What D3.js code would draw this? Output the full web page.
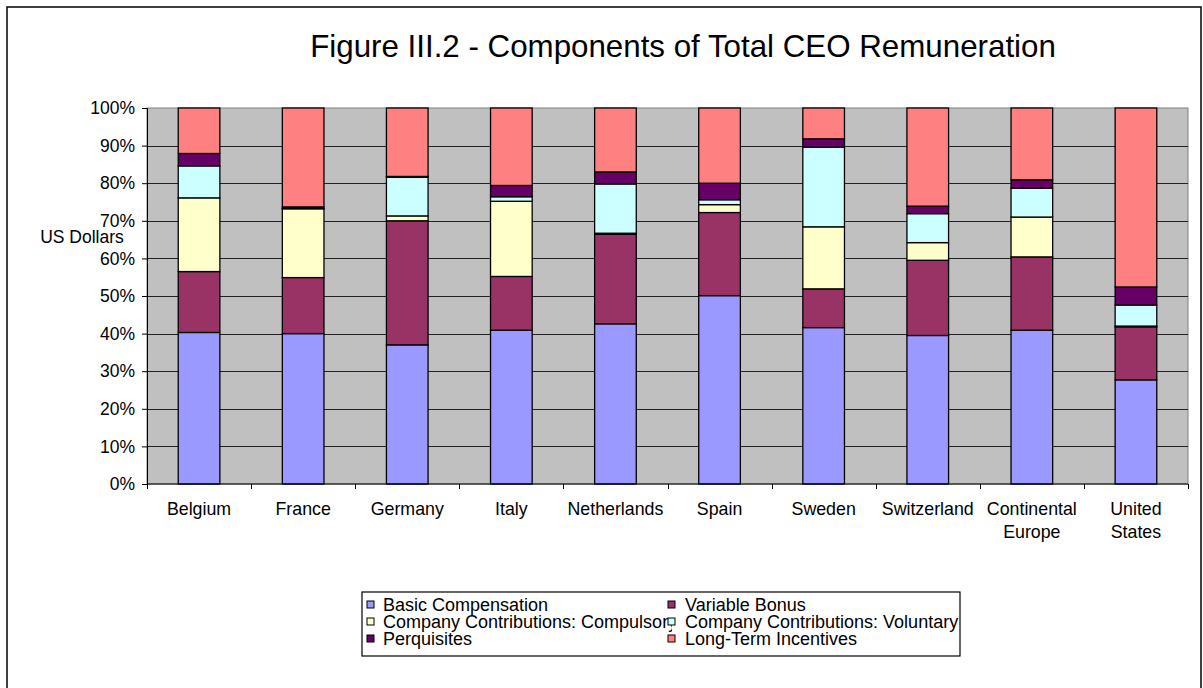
<!DOCTYPE html>
<html>
<head>
<meta charset="utf-8">
<script src="https://cdn.jsdelivr.net/npm/d3@7"></script>
<style>
  body { margin: 0; background: #fff; }
  svg { display: block; font-family: "Liberation Sans", Arial, sans-serif; }
</style>
</head>
<body>
<div id="chart"></div>
<script>
const countries = ["Belgium", "France", "Germany", "Italy", "Netherlands", "Spain",
  "Sweden", "Switzerland", "Continental Europe", "United States"];

const components = ["Basic Compensation", "Variable Bonus",
  "Company Contributions: Compulsory", "Company Contributions: Voluntary",
  "Perquisites", "Long-Term Incentives"];

// share of total remuneration, in %, one value per country
const basicComp   = [40.3, 40.0, 37.0, 40.9, 42.6, 50.1, 41.6, 39.5, 40.9, 27.7];
const variableBon = [16.2, 14.9, 33.0, 14.3, 23.8, 22.1, 10.3, 20.0, 19.5, 14.1];
const compulsory  = [19.6, 18.3,  1.3, 20.0,  0.3,  2.1, 16.5,  4.7, 10.6,  0.2];
const voluntary   = [ 8.5,  0.1, 10.3,  1.2, 13.1,  1.3, 21.2,  7.7,  7.7,  5.6];
const perquisites = [ 3.3,  0.4,  0.2,  3.0,  3.2,  4.4,  2.2,  2.0,  2.2,  4.8];
const longTerm    = [12.1, 26.3, 18.2, 20.6, 17.0, 20.0,  8.2, 26.1, 19.1, 47.6];

const colors = ["#9999FF", "#993366", "#FFFFCC", "#CCFFFF", "#660066", "#FF8080"];

const yTicks = [0, 10, 20, 30, 40, 50, 60, 70, 80, 90, 100];

const series = [basicComp, variableBon, compulsory, voluntary, perquisites, longTerm];
const table = countries.map((c, i) => {
  const row = {country: c};
  components.forEach((k, j) => { row[k] = series[j][i]; });
  return row;
});

const W = 1203, H = 688;
const plot = {left: 147, right: 1188, top: 108, bottom: 484};

const svg = d3.select("#chart").append("svg")
  .attr("width", W)
  .attr("height", H);

// outer chart border
svg.append("rect")
  .attr("x", 7).attr("y", 7)
  .attr("width", 1194).attr("height", 690)
  .attr("fill", "#fff")
  .attr("stroke", "#000")
  .attr("stroke-width", 1.5);

svg.append("text")
  .attr("x", 683)
  .attr("y", 57)
  .attr("text-anchor", "middle")
  .attr("font-size", 31.3)
  .text("Figure III.2 - Components of Total CEO Remuneration");

const x = d3.scaleBand()
  .domain(countries)
  .range([plot.left, plot.right])
  .padding(0);

const y = d3.scaleLinear()
  .domain([0, 100])
  .range([plot.bottom, plot.top]);

// plot background
svg.append("rect")
  .attr("x", plot.left).attr("y", plot.top)
  .attr("width", plot.right - plot.left)
  .attr("height", plot.bottom - plot.top)
  .attr("fill", "#C0C0C0")
  .attr("stroke", "#808080")
  .attr("stroke-width", 1);

// gridlines
svg.append("g")
  .selectAll("line")
  .data(yTicks.filter(t => t > 0 && t < 100))
  .enter()
  .append("line")
    .attr("x1", plot.left)
    .attr("x2", plot.right)
    .attr("y1", d => Math.round(y(d)) + 0.5)
    .attr("y2", d => Math.round(y(d)) + 0.5)
    .attr("stroke", "#222")
    .attr("stroke-width", 1);

const stack = d3.stack().keys(components);
const layers = stack(table);

const barW = x.bandwidth() * 0.4;

svg.append("g")
  .selectAll("g")
  .data(layers)
  .enter()
  .append("g")
    .attr("fill", (d, i) => colors[i])
  .selectAll("rect")
  .data(d => d)
  .enter()
  .append("rect")
    .attr("x", d => x(d.data.country) + (x.bandwidth() - barW) / 2)
    .attr("y", d => y(d[1]))
    .attr("width", barW)
    .attr("height", d => y(d[0]) - y(d[1]))
    .attr("stroke", "#000")
    .attr("stroke-width", 1.3);

// y axis
const yAxis = svg.append("g")
  .attr("transform", `translate(${plot.left}, 0)`)
  .call(d3.axisLeft(y)
    .tickValues(yTicks)
    .tickSize(5)
    .tickPadding(7)
    .tickFormat(d => d + "%"));
yAxis.select(".domain").attr("stroke", "#000");
yAxis.selectAll(".tick line").attr("stroke", "#000");
yAxis.selectAll("text")
  .attr("font-size", 17.5)
  .attr("font-family", "Liberation Sans, Arial, sans-serif")
  .attr("fill", "#000");

svg.append("text")
  .attr("x", 82)
  .attr("y", 243)
  .attr("text-anchor", "middle")
  .attr("font-size", 17.5)
  .text("US Dollars");

// x axis line and ticks at category boundaries
svg.append("line")
  .attr("x1", plot.left).attr("x2", plot.right)
  .attr("y1", plot.bottom).attr("y2", plot.bottom)
  .attr("stroke", "#000")
  .attr("stroke-width", 1.2);

const edges = countries.map(c => x(c)).concat([plot.right]);
svg.append("g")
  .selectAll("line")
  .data(edges)
  .enter()
  .append("line")
    .attr("x1", d => Math.round(d) + 0.5)
    .attr("x2", d => Math.round(d) + 0.5)
    .attr("y1", plot.bottom)
    .attr("y2", plot.bottom + 5)
    .attr("stroke", "#000");

// category labels, wrapped to the band width
const labels = svg.append("g")
  .selectAll("text")
  .data(countries)
  .enter()
  .append("text")
    .attr("x", d => x(d) + x.bandwidth() / 2)
    .attr("y", 515)
    .attr("text-anchor", "middle")
    .attr("font-size", 17.8);

labels.each(function(d) {
  const t = d3.select(this);
  const words = d.split(" ");
  let line = [];
  let lines = [];
  words.forEach(w => {
    const test = line.concat([w]).join(" ");
    t.text(test);
    if (this.getComputedTextLength() > x.bandwidth() - 4 && line.length) {
      lines.push(line.join(" "));
      line = [w];
    } else {
      line.push(w);
    }
  });
  lines.push(line.join(" "));
  t.text(null);
  lines.forEach((l, i) => {
    t.append("tspan")
      .attr("x", x(d) + x.bandwidth() / 2)
      .attr("dy", i === 0 ? 0 : 23)
      .text(l);
  });
});

// legend
const legend = svg.append("g");
legend.append("rect")
  .attr("x", 362).attr("y", 592)
  .attr("width", 598).attr("height", 64)
  .attr("fill", "#fff")
  .attr("stroke", "#000")
  .attr("stroke-width", 1.2);

svg.append("clipPath")
  .attr("id", "legClip")
  .append("rect")
    .attr("x", 362).attr("y", 592)
    .attr("width", 310).attr("height", 64);

const legItems = components.map((c, i) => ({
  name: c,
  color: colors[i],
  col: i % 2,
  row: Math.floor(i / 2)
}));

legend.selectAll("text.leg")
  .data(legItems)
  .enter()
  .append("text")
    .attr("class", "leg")
    .attr("x", d => d.col === 0 ? 383 : 685)
    .attr("y", d => 611 + d.row * 17)
    .attr("font-size", 18)
    .attr("clip-path", d => d.col === 0 ? "url(#legClip)" : null)
    .text(d => d.name);

legend.selectAll("rect.sw")
  .data(legItems)
  .enter()
  .append("rect")
    .attr("class", "sw")
    .attr("x", d => d.col === 0 ? 367 : 668)
    .attr("y", d => 601 + d.row * 17)
    .attr("width", 7)
    .attr("height", 7)
    .attr("fill", d => d.color)
    .attr("stroke", "#000")
    .attr("stroke-width", 1);
</script>
</body>
</html>
